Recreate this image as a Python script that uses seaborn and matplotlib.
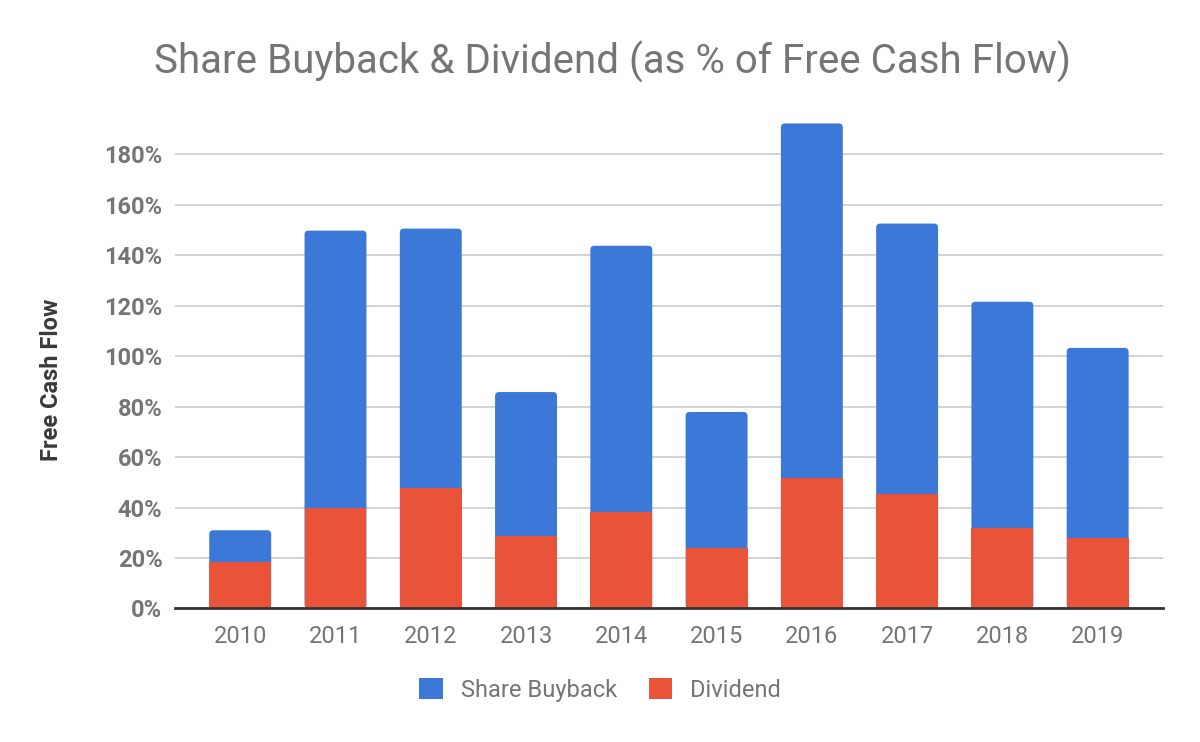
import matplotlib
matplotlib.use("Agg")
import matplotlib.pyplot as plt
import seaborn as sns
import pandas as pd
from matplotlib.ticker import FuncFormatter
from matplotlib.patches import FancyBboxPatch, Patch

years = ["2010", "2011", "2012", "2013", "2014", "2015", "2016", "2017", "2018", "2019"]
dividend = [18.3, 39.7, 47.7, 28.6, 38.1, 23.8, 51.6, 45.3, 31.8, 27.8]
buyback = [12.7, 110.1, 102.9, 57.2, 105.7, 54.1, 140.7, 107.3, 89.8, 75.5]
total = [d + b for d, b in zip(dividend, buyback)]
series_names = ["Share Buyback", "Dividend"]

sns.set_theme(style="white")
plt.rcParams['font.family'] = ['Roboto', 'DejaVu Sans']

df = pd.DataFrame({"year": years, "Dividend": dividend, "Total": total})

fig = plt.figure(figsize=(12, 7.42), dpi=100)
ax = fig.add_axes([0.1458, 0.18, 0.8233, 0.69])

blue = "#3c78d8"
red = "#e8533a"
sns.barplot(data=df, x="year", y="Total", color=blue, width=0.65, ax=ax,
            saturation=1, zorder=2, linewidth=0)
n_blue = len(ax.patches)
sns.barplot(data=df, x="year", y="Dividend", color=red, width=0.65, ax=ax,
            saturation=1, zorder=3, linewidth=0)

ax.set_ylim(0, 203)
ax.set_xlim(-0.685, len(years) - 1 + 0.685)

# rounded tops for the stacked bars (geometry taken from seaborn's patches)
fig.canvas.draw()
px_x = ax.transData.transform((1, 0))[0] - ax.transData.transform((0, 0))[0]
px_y = ax.transData.transform((0, 1))[1] - ax.transData.transform((0, 0))[1]
for p in list(ax.patches[:n_blue]):
    x, y, w, h = p.get_x(), p.get_y(), p.get_width(), p.get_height()
    p.set_visible(False)
    fb = FancyBboxPatch((x, y), w, h, boxstyle=f"round,pad=0,rounding_size={4.0/px_x}",
                        mutation_aspect=px_x / px_y, facecolor=blue, edgecolor="none",
                        zorder=2)
    ax.add_patch(fb)

ax.set_yticks(range(0, 181, 20))
ax.yaxis.set_major_formatter(FuncFormatter(lambda v, p: f"{int(v)}%"))
ax.grid(axis="y", color="#cccccc", linewidth=1.2, zorder=0)
ax.set_axisbelow(True)
for s in ["top", "right", "left"]:
    ax.spines[s].set_visible(False)
ax.spines["bottom"].set_color("#333333")
ax.spines["bottom"].set_linewidth(2)
ax.spines["bottom"].set_zorder(5)

ax.tick_params(axis="both", length=0)
for lbl in ax.get_yticklabels():
    lbl.set_fontweight("bold")
    lbl.set_color("#757575")
    lbl.set_fontsize(17)
for lbl in ax.get_xticklabels():
    lbl.set_color("#757575")
    lbl.set_fontsize(17)
ax.tick_params(axis="x", pad=12)
ax.tick_params(axis="y", pad=9)

ax.set_xlabel("")
ax.set_ylabel("Free Cash Flow", fontsize=17, fontweight="bold", color="#3a3a3a")
ax.yaxis.set_label_coords(-0.1134, 0.446)

fig.text(0.51, 0.916, "Share Buyback & Dividend (as % of Free Cash Flow)",
         ha="center", va="center", fontsize=29, color="#757575")

handles = [Patch(facecolor=blue, edgecolor="none"), Patch(facecolor=red, edgecolor="none")]
leg = fig.legend(handles, series_names, loc="center", bbox_to_anchor=(0.5, 0.07), ncol=2,
                 frameon=False, fontsize=17, handlelength=1.0, handleheight=1.0,
                 columnspacing=1.35, handletextpad=0.75)
for t in leg.get_texts():
    t.set_color("#757575")

fig.savefig("out.png", dpi=100)
